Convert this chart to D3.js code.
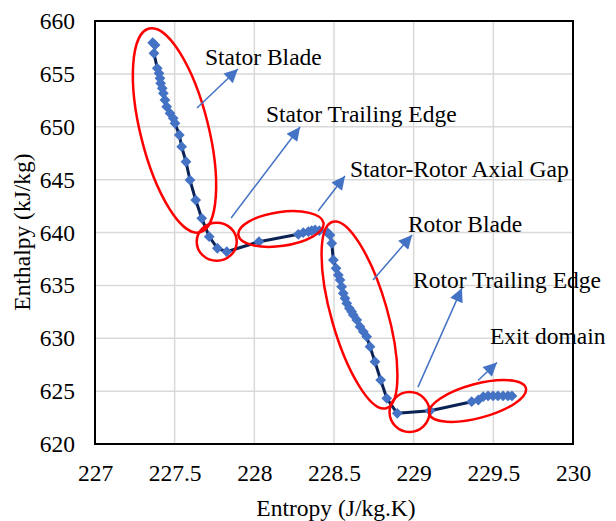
<!DOCTYPE html>
<html><head><meta charset="utf-8">
<script src="https://cdn.jsdelivr.net/npm/d3@7"></script>
<style>html,body{margin:0;padding:0;background:#fff;}svg{display:block;}
svg text{font-family:"Liberation Serif","Times New Roman",Tinos,"DejaVu Serif",serif;}</style>
</head><body><svg id="chart" width="616" height="521"></svg>
<script>
// ---- data ----
const entropy = [227.362,227.377,227.370,227.391,227.402,227.408,227.412,227.422,227.429,227.439,227.450,227.471,227.491,227.502,227.529,227.544,227.571,227.596,227.632,227.670,227.717,227.768,227.827,
  228.029,228.276,228.307,228.339,228.360,228.381,228.408,228.454,
  228.475,228.486,228.496,228.513,228.527,228.538,228.548,228.558,228.569,228.580,228.596,228.611,228.621,228.643,228.663,228.684,228.705,228.726,228.757,228.793,228.831,228.897,
  229.103,229.364,229.406,229.437,229.467,229.498,229.529,229.561,229.592,229.617];
const enthalpy = [657.95,657.73,656.95,655.53,655.05,654.58,654.11,653.64,653.16,652.53,651.90,651.27,650.80,650.33,649.22,648.11,646.69,644.96,643.07,641.34,639.60,638.51,638.18,
  639.13,639.83,639.98,640.08,640.17,640.24,640.17,640.08,
  639.76,638.98,637.40,636.61,635.98,635.51,634.87,634.25,633.78,633.30,632.83,632.51,632.20,631.73,631.09,630.62,630.15,629.20,627.78,626.05,624.32,622.90,
  623.15,624.00,624.16,624.47,624.54,624.54,624.54,624.54,624.54,624.54];
const xTicks = [227,227.5,228,228.5,229,229.5,230];
const yTicks = [620,625,630,635,640,645,650,655,660];
const xTitle = "Entropy (J/kg.K)";
const yTitle = "Enthalpy (kJ/kg)";
// annotations (data coordinates)
const labelTexts = ["Stator Blade","Stator Trailing Edge","Stator-Rotor Axial Gap","Rotor Blade","Rotor Trailing Edge","Exit domain"];
const labelX = [227.690,228.073,228.600,228.964,228.996,229.479];
const labelY = [655.84,650.45,645.25,640.05,634.75,629.46];
const arrowFromX = [227.640,227.854,228.400,228.745,229.027,229.404];
const arrowFromY = [651.77,641.37,642.03,635.51,625.38,626.00];
const arrowToX = [227.897,228.287,228.569,228.990,229.303,229.523];
const arrowToY = [655.46,649.98,645.34,639.76,634.74,627.71];
const ellipseX = [227.499,227.764,228.167,228.660,228.974,229.401];
const ellipseY = [649.65,639.13,640.33,632.20,623.03,624.07];
const ellipseRx = [34,20,43,28,20,50];
const ellipseRy = [105,19,17,97,20,17];
const ellipseRot = [-14,0,-8,-16,0,-15];

// ---- layout ----
const L = 95, R = 573, T = 21, B = 444;
const svg = d3.select("#chart");
const x = d3.scaleLinear().domain([227,230]).range([L,R]);
const y = d3.scaleLinear().domain([620,660]).range([B,T]);
const FS = "23.5px";

// gridlines
svg.append("g").selectAll("line").data(xTicks.slice(1,-1)).join("line")
  .attr("x1",d=>x(d)).attr("x2",d=>x(d)).attr("y1",T).attr("y2",B)
  .attr("stroke","#d9d9d9").attr("stroke-width",1.5);
svg.append("g").selectAll("line").data(yTicks.slice(1,-1)).join("line")
  .attr("y1",d=>y(d)).attr("y2",d=>y(d)).attr("x1",L).attr("x2",R)
  .attr("stroke","#d9d9d9").attr("stroke-width",1.5);

// axes (labels only)
const xAxis = svg.append("g").attr("transform",`translate(0,${B})`)
  .call(d3.axisBottom(x).tickValues(xTicks).tickSize(0).tickPadding(20).tickFormat(d=>String(d)));
const yAxis = svg.append("g").attr("transform",`translate(${L},0)`)
  .call(d3.axisLeft(y).tickValues(yTicks).tickSize(0).tickPadding(20).tickFormat(d=>String(d)));
[xAxis,yAxis].forEach(a=>{a.attr("font-family",null).attr("font-size",null);a.select(".domain").remove();
  a.selectAll("text").style("font-size",FS).attr("fill","#000");});
xAxis.selectAll("text").attr("dy","0.71em");

// frame
svg.append("rect").attr("x",L).attr("y",T).attr("width",R-L).attr("height",B-T)
  .attr("fill","none").attr("stroke","#000").attr("stroke-width",2);

// titles
svg.append("text").attr("x",(L+R)/2+2).attr("y",515.5).attr("text-anchor","middle")
  .style("font-size",FS).text(xTitle);
svg.append("text").attr("transform","translate(22,232) rotate(-90)").attr("dy","0.35em").attr("text-anchor","middle")
  .style("font-size",FS).text(yTitle);

// series
const pts = entropy.map((e,i)=>[e,enthalpy[i]]);
svg.append("path").datum(pts).attr("fill","none").attr("stroke","#0b2254").attr("stroke-width",3)
  .attr("stroke-linejoin","round")
  .attr("d",d3.line().x(d=>x(d[0])).y(d=>y(d[1])));
svg.append("g").selectAll("path").data(pts).join("path")
  .attr("d",d3.symbol(d3.symbolSquare,58))
  .attr("transform",d=>`translate(${x(d[0])},${y(d[1])}) rotate(45)`)
  .attr("fill","#4472c4");

// ellipses
svg.append("g").selectAll("ellipse").data(ellipseX).join("ellipse")
  .attr("transform",(d,i)=>`translate(${x(d)},${y(ellipseY[i])}) rotate(${ellipseRot[i]})`)
  .attr("rx",(d,i)=>ellipseRx[i]).attr("ry",(d,i)=>ellipseRy[i])
  .attr("fill","none").attr("stroke","#ff0000").attr("stroke-width",2.5);

// arrows
const defs = svg.append("defs");
defs.append("marker").attr("id","ah").attr("viewBox","0 0 10 10").attr("refX",10).attr("refY",5)
  .attr("markerWidth",10).attr("markerHeight",9).attr("markerUnits","strokeWidth").attr("orient","auto")
  .append("path").attr("d","M0,0 L10,5 L0,10 Z").attr("fill","#4472c4");
svg.append("g").selectAll("line").data(arrowFromX).join("line")
  .attr("x1",d=>x(d)).attr("y1",(d,i)=>y(arrowFromY[i]))
  .attr("x2",(d,i)=>x(arrowToX[i])).attr("y2",(d,i)=>y(arrowToY[i]))
  .attr("stroke","#4472c4").attr("stroke-width",1.5).attr("marker-end","url(#ah)");

// labels
svg.append("g").selectAll("text").data(labelTexts).join("text")
  .attr("x",(d,i)=>x(labelX[i])).attr("y",(d,i)=>y(labelY[i]))
  .style("font-size",FS).attr("fill","#000").text(d=>d);
</script></body></html>
